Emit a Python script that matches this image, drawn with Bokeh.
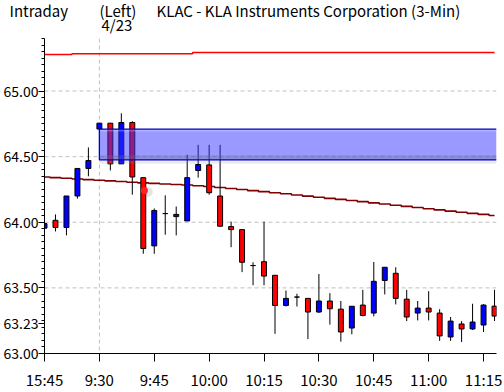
from bokeh.plotting import figure
from bokeh.models import Range1d, FixedTicker, Span, ColumnDataSource, PrintfTickFormatter
from bokeh.core.properties import value
from bokeh.embed import file_html
from bokeh.resources import INLINE

# ---------------- data ----------------
tick_index = [0, 5, 10, 15, 20, 25, 30, 35, 40]
tick_labels = ["15:45", "9:30", "9:45", "10:00", "10:15", "10:30", "10:45", "11:00", "11:15"]

opens = [63.955, 64.015, 63.96, 64.20, 64.41, 64.71, 64.755, 64.445, 64.76, 64.34,
         63.82, 64.066, 64.043, 64.01, 64.394, 64.437, 64.20, 63.967, 63.944, 63.67,
         63.70, 63.596, 63.366, 63.43, 63.42, 63.316, 63.40, 63.338, 63.194, 63.369,
         63.308, 63.556, 63.611, 63.414, 63.308, 63.346, 63.308, 63.126, 63.225, 63.187,
         63.217, 63.361]
highs = [64.076, 64.06, 64.20, 64.41, 64.57, 64.755, 64.755, 64.83, 64.77, 64.34,
         64.105, 64.205, 64.12, 64.515, 64.59, 64.59, 64.59, 64.005, 63.944, 63.695,
         64.005, 63.596, 63.48, 63.455, 63.42, 63.606, 63.46, 63.40, 63.36, 63.485,
         63.697, 63.657, 63.657, 63.485, 63.40, 63.475, 63.338, 63.278, 63.247, 63.379,
         63.376, 63.485]
lows = [63.924, 63.93, 63.90, 64.18, 64.35, 64.71, 64.395, 64.445, 64.21, 63.76,
        63.76, 63.905, 63.90, 64.01, 64.34, 64.21, 63.965, 63.81, 63.62, 63.52,
        63.52, 63.15, 63.358, 63.358, 63.11, 63.308, 63.22, 63.09, 63.146, 63.283,
        63.283, 63.45, 63.374, 63.247, 63.252, 63.252, 63.096, 63.096, 63.088, 63.179,
        63.164, 63.247]
closes = [63.99, 63.96, 64.20, 64.41, 64.47, 64.755, 64.445, 64.76, 64.345, 63.80,
          64.09, 64.066, 64.06, 64.34, 64.44, 64.225, 63.97, 63.944, 63.695, 63.67,
          63.59, 63.366, 63.42, 63.43, 63.316, 63.40, 63.341, 63.164, 63.36, 63.29,
          63.55, 63.657, 63.42, 63.278, 63.346, 63.316, 63.134, 63.247, 63.187, 63.24,
          63.369, 63.285]

moving_avg = [64.345, 64.34, 64.335, 64.33, 64.325, 64.32, 64.315, 64.31, 64.305, 64.30,
              64.296, 64.292, 64.288, 64.284, 64.278, 64.272, 64.265, 64.257, 64.249, 64.241,
              64.233, 64.225, 64.217, 64.208, 64.199, 64.19, 64.182, 64.174, 64.166, 64.157,
              64.148, 64.139, 64.13, 64.121, 64.112, 64.103, 64.094, 64.085, 64.076, 64.068,
              64.06, 64.051]
upper_line = [65.278, 65.278, 65.278, 65.283, 65.283, 65.283, 65.283, 65.283, 65.283, 65.283,
              65.283, 65.283, 65.283, 65.283, 65.293, 65.293, 65.293, 65.293, 65.293, 65.293,
              65.293, 65.293, 65.293, 65.293, 65.293, 65.293, 65.293, 65.293, 65.293, 65.293,
              65.293, 65.293, 65.293, 65.293, 65.293, 65.293, 65.293, 65.293, 65.293, 65.293,
              65.293, 65.293]

zone_start = 5
zone_top = 64.71
zone_bottom = 64.475

y_ticks = [63.00, 63.23, 63.50, 64.00, 64.50, 65.00]
grid_levels = [63.50, 64.00, 64.50, 65.00]
marker_x = [9.1]
marker_y = [64.242]

header_texts = ["Intraday", "(Left)", "4/23", "KLAC - KLA Instruments Corporation  (3-Min)"]

# ---------------- header (separate root, so no frame alignment) ----------------
FONT = "Noto Sans CJK JP"
hdr = figure(width=504, height=38, output_backend="svg", toolbar_location=None,
             x_range=Range1d(0, 504), y_range=Range1d(38, 0),
             x_axis_type=None, y_axis_type=None,
             min_border_left=0, min_border_right=0, min_border_top=0, min_border_bottom=0)
hdr.outline_line_color = None
hdr.xgrid.visible = False
hdr.ygrid.visible = False
hdr.text(x=[9, 99, 101, 156], y=[10, 10, 23.5, 10], text=header_texts,
         text_font=value(FONT), text_font_size="15px", text_color="black",
         text_baseline="alphabetic", text_align="left")

# ---------------- main chart ----------------
X_END = 41.18
idx = list(range(len(opens)))
colors = ["#0000ff" if c > o else ("#ff0000" if c < o else "#000000") for o, c in zip(opens, closes)]
src = ColumnDataSource(dict(
    x=idx, o=opens, h=highs, l=lows, c=closes,
    top=[max(o, c) for o, c in zip(opens, closes)],
    bot=[min(o, c) for o, c in zip(opens, closes)],
    color=colors,
))

p = figure(width=504, height=354, output_backend="svg", toolbar_location=None,
           x_range=Range1d(0, X_END), y_range=Range1d(63.0, 65.40),
           min_border_left=43, min_border_right=8, min_border_top=0, min_border_bottom=37)
p.outline_line_color = None
p.xgrid.visible = False
p.ygrid.visible = False

for lv in grid_levels:
    p.add_layout(Span(location=lv, dimension="width", line_color="#c0c0c0",
                      line_dash="4 3", line_width=1, level="underlay"))
p.add_layout(Span(location=tick_index[1], dimension="height", line_color="#c0c0c0",
                  line_dash="4 3", line_width=1, level="underlay"))

p.step(idx, upper_line, mode="center", line_color="#ff0000", line_width=1.5)
p.step(idx, moving_avg, mode="center", line_color="#800000", line_width=1.6)

p.segment(x0="x", y0="l", x1="x", y1="h", source=src, line_color="black", line_width=1)
p.vbar(x="x", top="top", bottom="bot", width=0.45, source=src,
       fill_color="color", line_color="black", line_width=1)

p.scatter([x + 0.3 for x in marker_x], [y - 0.012 for y in marker_y], size=10,
          fill_color="#707070", fill_alpha=0.18, line_color=None)
p.scatter(marker_x, marker_y, size=7, fill_color="#ff2020", line_color=None)

p.quad(left=zone_start, right=X_END, bottom=zone_bottom, top=zone_top,
       fill_color="#3333ff", fill_alpha=0.5, line_color=None)
p.quad(left=zone_start, right=X_END, bottom=zone_top - 0.018, top=zone_top,
       fill_color="white", fill_alpha=0.25, line_color=None)
p.quad(left=zone_start, right=X_END, bottom=zone_bottom, top=zone_bottom + 0.035,
       fill_color="#707090", fill_alpha=0.3, line_color=None)
p.quad(left=zone_start, right=X_END, bottom=zone_bottom - 0.03, top=zone_bottom,
       fill_color="#909090", fill_alpha=0.18, line_color=None)
p.segment(x0=[zone_start, zone_start, zone_start], y0=[zone_top, zone_bottom, zone_bottom],
          x1=[X_END, X_END, zone_start], y1=[zone_top, zone_bottom, zone_top],
          line_color="#0000cc", line_width=1.3)

xa = p.xaxis[0]
xa.ticker = FixedTicker(ticks=tick_index)
xa.major_label_overrides = {t: lab for t, lab in zip(tick_index, tick_labels)}
xa.major_tick_out = 8
xa.major_tick_in = 0
xa.minor_tick_out = 0
xa.minor_tick_in = 0
xa.major_label_standoff = 7
xa.major_label_text_font_size = "15px"
ya = p.yaxis[0]
ya.ticker = FixedTicker(ticks=y_ticks, minor_ticks=[round(63.0 + 0.05 * k, 2) for k in range(49)])
ya.formatter = PrintfTickFormatter(format="%.2f")
ya.major_tick_out = 6
ya.major_tick_in = 0
ya.minor_tick_out = 3
ya.minor_tick_in = 0
ya.major_label_standoff = 0
ya.major_label_text_font_size = "14px"
for ax in (xa, ya):
    ax.axis_line_color = "black"
    ax.major_tick_line_color = "black"
    ax.minor_tick_line_color = "black"
    ax.major_label_text_font = FONT
    ax.major_label_text_color = "black"

open("out.html", "w").write(file_html([hdr, p], INLINE))
